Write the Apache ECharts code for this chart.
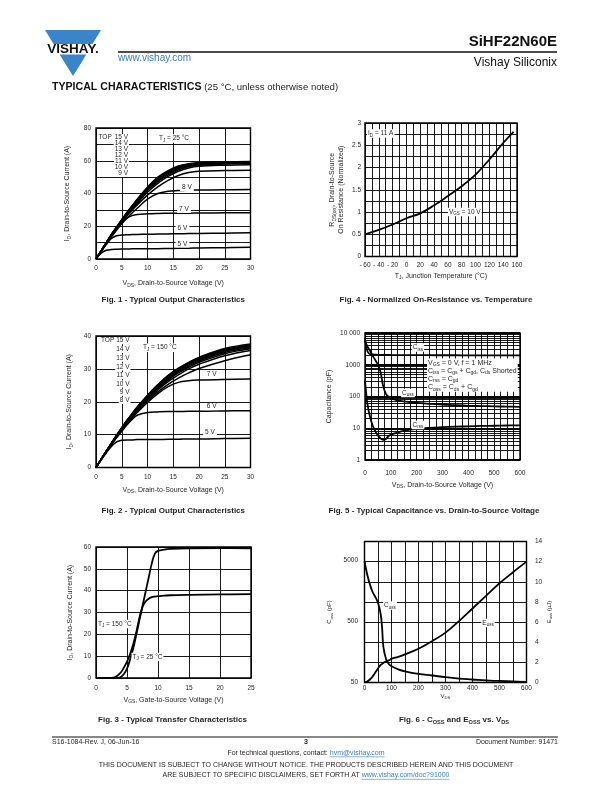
<!DOCTYPE html>
<html><head><meta charset="utf-8">
<script src="https://cdn.jsdelivr.net/npm/echarts@6/dist/echarts.min.js"></script>
<style>html,body{margin:0;padding:0;background:#fff}#c{width:612px;height:792px}</style>
</head><body><div id="c"></div>
<script>
// ---------------- DATA ----------------
// Fig. 1 – Typical output characteristics, TJ = 25 °C
const fig1Vds = [0,1,2,3,4,5,6,7,8,10,12,14,16,18,20,25,30];
const fig1Id_15V = [0,5,10,15,19.5,24,28.5,32.5,36.5,44,50,54,56.8,58.2,58.9,59.4,59.6];
const fig1Id_14V = [0,5,10,15,19.5,24,28.3,32.3,36.2,43.5,49.4,53.4,56.3,57.8,58.5,59.1,59.3];
const fig1Id_13V = [0,5,10,15,19.4,23.8,28,32,35.8,43,48.7,52.8,55.7,57.3,58.1,58.8,59];
const fig1Id_12V = [0,5,10,14.9,19.3,23.6,27.7,31.6,35.3,42.4,48,52.1,55.1,56.8,57.7,58.4,58.7];
const fig1Id_11V = [0,5,10,14.8,19.1,23.4,27.4,31.2,34.8,41.8,47.3,51.4,54.5,56.3,57.3,58,58.3];
const fig1Id_10V = [0,5,9.9,14.7,18.9,23,27,30.6,34,40.8,46.2,50.4,53.6,55.6,56.6,57.3,57.6];
const fig1Id_9V  = [0,4.9,9.8,14.5,18.6,22.5,26.3,29.8,33,39,44,48,51,52.8,53.6,54,54.2];
const fig1Id_8V  = [0,4.8,9.5,14,18,21.8,25,28,31,36.5,40,41.4,41.8,42,42.1,42.3,42.5];
const fig1Id_7V  = [0,4.7,9.2,13.5,17.5,21.5,24.8,26.5,27.2,27.6,27.8,27.9,28,28,28.1,28.2,28.3];
const fig1Id_6V  = [0,4.5,8.8,12.5,14.2,14.6,14.8,14.9,15,15.1,15.2,15.3,15.4,15.5,15.6,15.8,16];
const fig1Id_5V  = [0,3.5,5.3,5.8,6,6.1,6.1,6.2,6.2,6.3,6.3,6.4,6.5,6.6,6.7,6.9,7.1];
const fig1LegendVgs = ['15 V','14 V','13 V','12 V','11 V','10 V','9 V'];
const fig1CurveLabels = ['8 V','7 V','6 V','5 V'];

// Fig. 2 – Typical output characteristics, TJ = 150 °C
const fig2Vds = [0,1,2,3,4,5,6,7,8,10,12,14,16,18,20,25,30];
const fig2Id_15V = [0,2.5,5,7.4,9.8,12.1,14.3,16.4,18.4,22,25.2,28,30.2,32,33.5,36.2,37.6];
const fig2Id_14V = [0,2.5,5,7.4,9.8,12.1,14.3,16.3,18.3,21.9,25,27.8,30,31.8,33.3,35.9,37.3];
const fig2Id_13V = [0,2.5,5,7.4,9.7,12,14.2,16.2,18.2,21.7,24.8,27.5,29.7,31.5,33,35.6,37];
const fig2Id_12V = [0,2.5,5,7.3,9.7,11.9,14.1,16.1,18,21.5,24.6,27.2,29.4,31.2,32.7,35.3,36.7];
const fig2Id_11V = [0,2.5,5,7.3,9.6,11.8,14,16,17.9,21.3,24.3,26.9,29.1,30.9,32.4,35,36.4];
const fig2Id_10V = [0,2.5,4.9,7.3,9.6,11.7,13.8,15.8,17.7,21,24,26.6,28.8,30.5,32,34.6,36.1];
const fig2Id_9V  = [0,2.5,4.9,7.2,9.5,11.6,13.7,15.6,17.5,20.7,23.6,26.1,28.2,30,31.4,34,35.6];
const fig2Id_8V  = [0,2.4,4.8,7.1,9.3,11.4,13.4,15.3,17.1,20.3,23,25.3,27.2,28.8,30.1,32.5,34.3];
const fig2Id_7V  = [0,2.4,4.8,7.1,9.2,11.3,13.2,15,16.7,19.8,22.5,24.6,25.9,26.4,26.6,26.8,26.9];
const fig2Id_6V  = [0,2.4,4.7,6.9,9,11,12.9,14.6,15.9,16.7,16.9,17,17,17.1,17.1,17.2,17.3];
const fig2Id_5V  = [0,2.3,4.5,6.4,7.8,8.3,8.4,8.4,8.5,8.5,8.5,8.6,8.6,8.7,8.7,8.8,8.9];
const fig2LegendVgs = ['15 V','14 V','13 V','12 V','11 V','10 V','9 V','8 V'];
const fig2CurveLabels = ['7 V','6 V','5 V'];

// Fig. 3 – Typical transfer characteristics
const fig3Vgs = [0,2,3,3.5,4,4.5,5,5.5,6,6.5,7,7.5,8,8.5,9,9.5,10,11,12,15,20,25];
const fig3Id_25C  = [0,0,0,0.1,0.5,1.8,4.3,8.5,13.5,19.8,26.5,33,39.5,46,52.5,57,58.2,58.8,59.1,59.4,59.5,59.4];
const fig3Id_150C = [0,0,0.3,1.2,2.5,4.8,7.5,11,15.5,21,27.5,32.5,35,36.3,37,37.3,37.5,37.7,37.9,38.1,38.3,38.4];

// Fig. 4 – Normalized on-resistance vs. temperature
const fig4Tj  = [-60,-40,-20,0,20,40,60,80,100,120,140,155];
const fig4Rds = [0.5,0.6,0.72,0.86,0.97,1.15,1.36,1.58,1.84,2.18,2.55,2.8];

// Fig. 5 – Capacitance vs. VDS
const fig5Vds  = [0,5,10,20,30,40,50,60,70,80,90,100,125,150,200,250,300,350,400,450,500,550,600];
const fig5Ciss = [7000,3600,2600,2150,2100,2080,2060,2050,2040,2030,2030,2020,2020,2010,2000,2000,1990,1990,1980,1980,1970,1970,1960];
const fig5Coss = [5500,4500,3700,2700,1900,1400,1000,600,220,125,100,88,76,70,63,59,56,53,51,50,49,48,47];
const fig5Crss = [320,120,55,22,12,8,6,4.8,4.3,4.5,5.5,6.3,7.3,8.2,9.5,10.3,10.8,11.2,11.5,11.8,12,12.2,12.4];
const fig5MinorGrid = [2,3,4,5,6,7,8,9,20,30,40,50,60,70,80,90,200,300,400,500,600,700,800,900,2000,3000,4000,5000,6000,7000,8000,9000];

// Fig. 6 – Coss and Eoss vs. VDS
const fig6Vds  = [0,10,20,30,40,50,60,65,70,80,90,100,125,150,200,250,300,350,400,450,500,550,600];
const fig6Coss = [4800,2900,2000,1500,1250,1000,650,400,190,120,100,92,82,76,69,65,61,58,56,54,53,52,51];
const fig6Eoss = [0,0.1,0.3,0.6,1.0,1.4,1.75,1.85,1.95,2.1,2.2,2.35,2.55,2.8,3.35,4.1,4.95,6.1,7.35,8.6,9.85,10.95,12];
const fig6CossTicks = [50,500,5000];

// ---------------- STYLE HELPERS ----------------
const FONT = '"Liberation Sans", Arial, Helvetica, sans-serif';
const INK = '#231f20';
const BLUE = '#3b7ec2';
const LOGO = '#3a84c9';

function richA(size, bold) {
  const w = bold ? 'bold' : 'normal';
  return {
    n: {fontSize: size, fontFamily: FONT, fontWeight: w, color: INK, fill: INK, lineHeight: size + 2},
    s: {fontSize: +(size * 0.7).toFixed(2), fontFamily: FONT, fontWeight: w, color: INK, fill: INK, lineHeight: +(size * 0.7).toFixed(2), verticalAlign: 'bottom'}
  };
}

function axis(p) {
  return {
    type: p.type || 'value', gridIndex: p.grid, min: p.min, max: p.max, interval: p.interval,
    position: p.position, logBase: p.logBase, splitNumber: p.splitNumber,
    axisLine: {show: false}, axisTick: {show: false},
    axisLabel: {show: p.labels !== false, margin: p.margin == null ? 5 : p.margin, fontSize: 6.5,
      fontFamily: FONT, color: INK, formatter: p.fmt, showMaxLabel: p.showMax, showMinLabel: p.showMin},
    splitLine: {show: p.split !== false, lineStyle: {color: '#000', width: p.sw || 0.9}},
    minorTick: {show: false, splitNumber: p.minor || 5},
    minorSplitLine: {show: !!p.minor, lineStyle: {color: '#000', width: p.msw || 0.9}},
    name: p.name, nameLocation: 'middle', nameGap: p.nameGap,
    nameTextStyle: {fontSize: p.nameSize || 7, fontFamily: FONT, color: INK, rich: richA(p.nameSize || 7)}
  };
}

function zip(xs, ys) { return xs.map((x, i) => [x, ys[i]]); }
function curve(xi, yi, xs, ys, w) {
  return {type: 'line', xAxisIndex: xi, yAxisIndex: yi, data: zip(xs, ys), smooth: 0.4,
    symbol: 'none', showSymbol: false, silent: true, z: 3, lineStyle: {color: '#000', width: w || 1.5}};
}

// ---------------- GRAPHIC TEXT ----------------
const G = [];
function txt(x, y, text, o) {
  o = o || {};
  const size = o.size || 7;
  const st = {text: text, fontSize: size, fontFamily: FONT, fontWeight: o.bold ? 'bold' : 'normal',
    fill: o.color || INK, align: o.align || 'left', textAlign: o.align || 'left',
    verticalAlign: o.va || 'middle', textVerticalAlign: o.va || 'middle'};
  if (o.rich) st.rich = o.rich;
  if (o.bg) { st.backgroundColor = o.bg; st.padding = o.pad || [0, 1]; }
  if (o.lh) st.lineHeight = o.lh;
  G.push({type: 'text', x: x, y: y, z: 100, silent: true, style: st});
}
function hline(x1, x2, y, w, c) {
  G.push({type: 'line', z: 100, silent: true, shape: {x1: x1, y1: y, x2: x2, y2: y}, style: {stroke: c || '#000', lineWidth: w || 1}});
}
const mctx = document.createElement('canvas').getContext('2d');
function tw(text, size, bold) { mctx.font = (bold ? 'bold ' : '') + size + 'px ' + FONT; return mctx.measureText(text).width; }

// header
G.push({type: 'polygon', z: 100, silent: true, shape: {points: [[45, 30], [101, 30], [92.5, 44], [53.5, 44]]}, style: {fill: LOGO}});
G.push({type: 'polygon', z: 100, silent: true, shape: {points: [[59.6, 54.5], [86.4, 54.5], [73, 76]]}, style: {fill: LOGO}});
txt(73, 49.5, 'VISHAY.', {size: 13.5, bold: true, align: 'center', color: '#111'});
hline(118, 557, 52, 1.3, '#111');
txt(118, 58.5, 'www.vishay.com', {size: 10, color: BLUE});
txt(557, 41.5, 'SiHF22N60E', {size: 15, bold: true, align: 'right', color: '#111'});
txt(557, 62.5, 'Vishay Siliconix', {size: 12, align: 'right', color: '#111'});
txt(52, 87.5, '{b|TYPICAL CHARACTERISTICS}{r| (25 °C, unless otherwise noted)}', {rich: {
  b: {fontSize: 10.6, fontWeight: 'bold', fontFamily: FONT, fill: '#111', textStrokeWidth: 0},
  r: {fontSize: 9.6, fontFamily: FONT, fill: INK}}});

// footer
hline(52, 558, 737, 1, '#111');
txt(52, 742.5, 'S16-1084-Rev. J, 06-Jun-16', {size: 7});
txt(306, 742.5, '3', {size: 7, bold: true, align: 'center'});
txt(558, 742.5, 'Document Number: 91471', {size: 7, align: 'right'});
(function () {
  const a = 'For technical questions, contact: ', b = 'hvm@vishay.com';
  const wa = tw(a, 7), wb = tw(b, 7), x0 = 306 - (wa + wb) / 2;
  txt(x0, 753, a, {size: 7});
  txt(x0 + wa, 753, b, {size: 7, color: BLUE});
  hline(x0 + wa, x0 + wa + wb, 756.8, 0.6, BLUE);
  txt(306, 765.5, 'THIS DOCUMENT IS SUBJECT TO CHANGE WITHOUT NOTICE. THE PRODUCTS DESCRIBED HEREIN AND THIS DOCUMENT', {size: 7, align: 'center'});
  const c = 'ARE SUBJECT TO SPECIFIC DISCLAIMERS, SET FORTH AT ', d = 'www.vishay.com/doc?91000';
  const wc = tw(c, 7), wd = tw(d, 7), x1 = 306 - (wc + wd) / 2;
  txt(x1, 775.5, c, {size: 7});
  txt(x1 + wc, 775.5, d, {size: 7, color: BLUE});
  hline(x1 + wc, x1 + wc + wd, 779.3, 0.6, BLUE);
})();

// captions
const RB8 = richA(8, true);
txt(173.3, 300, 'Fig. 1 - Typical Output Characteristics', {size: 8, bold: true, align: 'center'});
txt(436, 300, 'Fig. 4 - Normalized On-Resistance vs. Temperature', {size: 8, bold: true, align: 'center'});
txt(173.3, 511, 'Fig. 2 - Typical Output Characteristics', {size: 8, bold: true, align: 'center'});
txt(434, 511, 'Fig. 5 - Typical Capacitance vs. Drain-to-Source Voltage', {size: 8, bold: true, align: 'center'});
txt(172.5, 720, 'Fig. 3 - Typical Transfer Characteristics', {size: 8, bold: true, align: 'center'});
txt(454, 720, '{n|Fig. 6 - C}{s|OSS}{n| and E}{s|OSS}{n| vs. V}{s|DS}', {size: 8, align: 'center', rich: RB8});

// annotations
const R65 = richA(6.5);
const W = '#fff';
// Fig 1
txt(97.5, 137.5, 'TOP', {size: 6.5, bg: W});
const fig1LegY = [137.5, 143.5, 149.5, 155.5, 161.5, 167.5, 173.5];
fig1LegendVgs.forEach((t, i) => txt(129, fig1LegY[i], t, {size: 6.5, align: 'right', bg: W}));
txt(158, 138.5, '{n|T}{s|J}{n| = 25 °C}', {size: 6.5, rich: R65, bg: W});
const fig1LabPos = [[187, 187.5], [184, 209.5], [182.5, 228], [182.5, 244]];
fig1CurveLabels.forEach((t, i) => txt(fig1LabPos[i][0], fig1LabPos[i][1], t, {size: 6.5, align: 'center', bg: W, pad: [0, 2]}));
// Fig 2
txt(100, 340.7, 'TOP', {size: 6.5, bg: W});
const fig2LegY = [340.7, 349.5, 358.2, 367, 375.7, 384, 392.3, 400.5];
fig2LegendVgs.forEach((t, i) => txt(130.5, fig2LegY[i], t, {size: 6.5, align: 'right', bg: W}));
txt(142, 347.7, '{n|T}{s|J}{n| = 150 °C}', {size: 6.5, rich: R65, bg: W});
const fig2LabPos = [[211.7, 374.3], [211.7, 406.7], [210, 432.7]];
fig2CurveLabels.forEach((t, i) => txt(fig2LabPos[i][0], fig2LabPos[i][1], t, {size: 6.5, align: 'center', bg: W, pad: [0, 2]}));
// Fig 3
txt(97, 624, '{n|T}{s|J}{n| = 150 °C}', {size: 6.5, rich: R65, bg: W});
txt(131.5, 657, '{n|T}{s|J}{n| = 25 °C}', {size: 6.5, rich: R65, bg: W});
// Fig 4
txt(367, 133.5, '{n|I}{s|D}{n| = 11 A}', {size: 6.5, rich: R65, bg: W});
txt(448, 212, '{n|V}{s|GS}{n| = 10 V}', {size: 6.5, rich: R65, bg: W});
// Fig 5
txt(418, 347.5, '{n|C}{s|iss}', {size: 6.5, rich: R65, align: 'center', bg: W});
txt(408, 393, '{n|C}{s|oss}', {size: 6.5, rich: R65, align: 'center', bg: W});
txt(418, 425, '{n|C}{s|rss}', {size: 6.5, rich: R65, align: 'center', bg: W});
txt(427, 358.5, '{n|V}{s|GS}{n| = 0 V, f = 1 MHz}\n{n|C}{s|iss}{n| = C}{s|gs}{n| + C}{s|gd}{n|, C}{s|ds}{n| Shorted}\n{n|C}{s|rss}{n| = C}{s|gd}\n{n|C}{s|oss}{n| = C}{s|ds}{n| + C}{s|gd}',
  {size: 7, rich: {n: {fontSize: 7, fontFamily: FONT, fill: INK, lineHeight: 8.3}, s: {fontSize: 5, fontFamily: FONT, fill: INK, lineHeight: 5.5, verticalAlign: 'bottom'}},
   va: 'top', bg: W, pad: [0, 1]});
// Fig 6
txt(390, 605.5, '{n|C}{s|oss}', {size: 6.5, rich: R65, align: 'center', bg: W});
txt(488, 623, '{n|E}{s|oss}', {size: 6.5, rich: R65, align: 'center', bg: W});

// ---------------- CHART ----------------
const grids = [
  {left: 96, top: 128, width: 154.5, height: 131},     // Fig 1
  {left: 365, top: 123, width: 152, height: 133.5},    // Fig 4
  {left: 96, top: 336, width: 154.5, height: 131.5},   // Fig 2
  {left: 365, top: 333, width: 155, height: 127},      // Fig 5
  {left: 96, top: 547, width: 155, height: 131},       // Fig 3
  {left: 364.5, top: 541.5, width: 162, height: 141}   // Fig 6
].map(g => Object.assign({show: true, borderColor: '#000', borderWidth: 1.4, backgroundColor: 'transparent', containLabel: false}, g));

const xAxes = [
  axis({grid: 0, min: 0, max: 30, interval: 5, margin: 6, nameGap: 20, name: '{n|V}{s|DS}{n|, Drain-to-Source Voltage (V)}'}),
  axis({grid: 1, min: -60, max: 160, interval: 20, minor: 2, margin: 5, nameGap: 15, fmt: v => v < 0 ? '- ' + (-v) : String(v), name: '{n|T}{s|J}{n|, Junction Temperature (°C)}'}),
  axis({grid: 2, min: 0, max: 30, interval: 5, margin: 6, nameGap: 18, name: '{n|V}{s|DS}{n|, Drain-to-Source Voltage (V)}'}),
  axis({grid: 3, min: 0, max: 600, interval: 100, minor: 4, margin: 10, nameGap: 20.5, name: '{n|V}{s|DS}{n|, Drain-to-Source Voltage (V)}'}),
  axis({grid: 4, min: 0, max: 25, interval: 5, margin: 7, nameGap: 17.5, name: '{n|V}{s|GS}{n|, Gate-to-Source Voltage (V)}'}),
  axis({grid: 5, min: 0, max: 600, interval: 100, minor: 2, margin: 2.5, nameGap: 9, nameSize: 6, name: '{n|V}{s|DS}'})
];
const yAxes = [
  axis({grid: 0, min: 0, max: 80, interval: 20, minor: 2, margin: 5, nameGap: 24, name: '{n|I}{s|D}{n|, Drain-to-Source Current (A)}'}),
  axis({grid: 1, min: 0, max: 3, interval: 0.5, minor: 2, margin: 4, nameGap: 19, name: '{n|R}{s|DS(on)}{n|, Drain-to-Source}\n{n|On Resistance (Normalized)}'}),
  axis({grid: 2, min: 0, max: 40, interval: 10, margin: 5, nameGap: 22, name: '{n|I}{s|D}{n|, Drain-to-Source Current (A)}'}),
  axis({grid: 3, type: 'log', logBase: 10, min: 1, max: 10000, margin: 5, sw: 1.8, nameGap: 31, fmt: v => v === 10000 ? '10 000' : String(v), name: '{n|Capacitance (pF)}'}),
  axis({grid: 4, min: 0, max: 60, interval: 10, margin: 5, nameGap: 21.5, name: '{n|I}{s|D}{n|, Drain-to-Source Current (A)}'}),
  axis({grid: 5, type: 'log', logBase: 10, min: 50, max: 10000, labels: false, split: false}),
  axis({grid: 5, min: 0, max: 14, interval: 2, position: 'right', margin: 8.5, nameGap: 17, nameSize: 6, name: '{n|E}{s|oss}{n| (µJ)}'}),
  axis({grid: 5, min: 0, max: Math.log10(10000 / fig6CossTicks[0]), interval: 1, position: 'left', split: false, margin: 6.5, showMax: false,
        fmt: v => String(Math.round(fig6CossTicks[0] * Math.pow(10, v))), nameGap: 31, nameSize: 6, name: '{n|C}{s|oss}{n| (pF)}'})
];

const series = [];
[fig1Id_15V, fig1Id_14V, fig1Id_13V, fig1Id_12V, fig1Id_11V, fig1Id_10V, fig1Id_9V, fig1Id_8V, fig1Id_7V, fig1Id_6V, fig1Id_5V]
  .forEach(d => series.push(curve(0, 0, fig1Vds, d, 1.5)));
series.push(curve(1, 1, fig4Tj, fig4Rds, 1.8));
[fig2Id_15V, fig2Id_14V, fig2Id_13V, fig2Id_12V, fig2Id_11V, fig2Id_10V, fig2Id_9V, fig2Id_8V, fig2Id_7V, fig2Id_6V, fig2Id_5V]
  .forEach(d => series.push(curve(2, 2, fig2Vds, d, 1.5)));
const ciss = curve(3, 3, fig5Vds, fig5Ciss, 1.8);
ciss.markLine = {silent: true, symbol: 'none', label: {show: false}, animation: false,
  lineStyle: {color: '#000', width: 0.9, type: 'solid'}, data: fig5MinorGrid.map(v => ({yAxis: v}))};
series.push(ciss);
series.push(curve(3, 3, fig5Vds, fig5Coss, 1.8));
series.push(curve(3, 3, fig5Vds, fig5Crss, 1.8));
series.push(curve(4, 4, fig3Vgs, fig3Id_25C, 1.8));
series.push(curve(4, 4, fig3Vgs, fig3Id_150C, 1.8));
series.push(curve(5, 5, fig6Vds, fig6Coss, 1.8));
series.push(curve(5, 6, fig6Vds, fig6Eoss, 1.8));

const chart = echarts.init(document.getElementById('c'), null, {renderer: 'canvas', width: 612, height: 792});
chart.setOption({
  animation: false,
  backgroundColor: '#fff',
  textStyle: {fontFamily: FONT},
  grid: grids, xAxis: xAxes, yAxis: yAxes, series: series,
  graphic: {elements: G}
});
</script></body></html>
